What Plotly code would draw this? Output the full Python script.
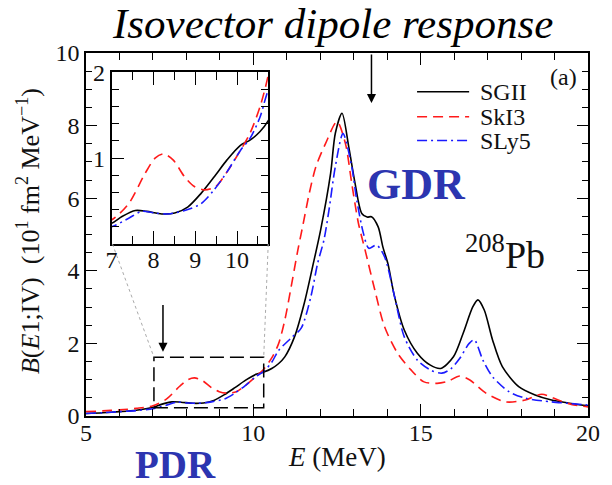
import plotly.graph_objects as go

# ---------------- data ----------------
sg2_E = [5.0, 5.5, 6.0, 6.5, 7.0, 7.25, 7.57, 7.84, 8.2, 8.51, 8.82, 9.14, 9.45, 9.76,
         10.08, 10.31, 10.55, 10.75, 10.94, 11.23, 11.52, 11.77, 12.01, 12.31, 12.45,
         12.65, 12.85, 13.04, 13.24, 13.4, 13.53, 13.73, 13.87, 14.02, 14.22, 14.51,
         14.9, 15.29, 15.6, 15.98, 16.27, 16.56, 16.71, 16.9, 17.15, 17.44, 17.93,
         18.42, 18.91, 19.4, 20.0]
sg2_B = [0.07, 0.09, 0.12, 0.16, 0.24, 0.32, 0.39, 0.38, 0.35, 0.36, 0.43, 0.59, 0.78, 0.98,
         1.15, 1.21, 1.31, 1.44, 1.63, 2.18, 3.1, 4.11, 5.12, 6.69, 7.79,
         8.34, 7.42, 6.41, 5.58, 5.48, 5.49, 5.21, 4.66, 4.2, 3.29, 2.37,
         1.73, 1.4, 1.31, 1.63, 2.28, 3.01, 3.2, 2.92, 2.09, 1.36, 0.81,
         0.58, 0.44, 0.36, 0.28]

ski3_E = [5.0, 5.5, 6.0, 6.5, 7.0, 7.41, 7.8, 8.04, 8.24, 8.47, 8.75, 8.98, 9.22, 9.49,
          9.76, 10.08, 10.31, 10.55, 10.75, 10.94, 11.13, 11.33, 11.48, 11.67, 11.87,
          12.16, 12.5, 12.75, 12.94, 13.14, 13.34, 13.63, 13.92, 14.31, 14.71, 15.1,
          15.49, 15.8, 16.17, 16.47, 16.95, 17.54, 18.13, 18.62, 19.11, 19.5, 20.0]
ski3_B = [0.12, 0.14, 0.17, 0.21, 0.28, 0.47, 0.82, 1.0, 1.05, 0.98, 0.78, 0.67, 0.63, 0.67,
          0.84, 1.09, 1.29, 1.6, 1.98, 2.64, 3.56, 4.57, 5.25, 6.13, 6.87,
          7.51, 8.11, 7.51, 6.41, 5.31, 4.57, 3.47, 2.46, 1.73, 1.27, 0.94,
          0.9, 0.95, 1.1, 0.99, 0.63, 0.39, 0.44, 0.6, 0.44, 0.32, 0.25]

sly5_E = [5.0, 5.5, 6.0, 6.5, 7.0, 7.41, 7.72, 8.04, 8.35, 8.75, 9.14, 9.45, 9.76, 10.08,
          10.31, 10.55, 10.75, 11.13, 11.43, 11.72, 11.92, 12.11, 12.26, 12.45, 12.68,
          12.94, 13.09, 13.29, 13.45, 13.68, 13.92, 14.22, 14.51, 14.9, 15.29, 15.63,
          15.9, 16.17, 16.45, 16.6, 16.86, 17.15, 17.64, 18.13, 18.91, 19.4, 20.0]
sly5_B = [0.07, 0.09, 0.12, 0.15, 0.2, 0.3, 0.38, 0.36, 0.35, 0.39, 0.47, 0.63, 0.84, 1.09,
          1.23, 1.48, 1.8, 2.15, 2.42, 3.29, 4.2, 4.85, 5.67, 6.87, 7.78,
          6.87, 5.95, 5.03, 4.62, 4.71, 4.39, 3.29, 2.18, 1.54, 1.27, 1.18,
          1.3, 1.59, 2.0, 2.1, 1.54, 1.08, 0.67, 0.49, 0.39, 0.35, 0.3]

series_names = ["SGII", "SkI3", "SLy5"]
x_ticks = [5, 10, 15, 20]
y_ticks = [0, 2, 4, 6, 8, 10]
inset_x_ticks = [7, 8, 9, 10]
inset_y_ticks = [1, 2]

# ---------------- figure ----------------
FONT = "Liberation Serif, Times New Roman, serif"
W, H = 612, 485
L, R, T, B = 86, 15, 53, 69
PW, PH = W - L - R, H - T - B


def px(xp):
    return (xp - L) / PW


def py(yp):
    return (H - B - yp) / PH


styles = [
    dict(color="black", width=1.6, dash="solid"),
    dict(color="#ff1a1a", width=1.6, dash="10px,6px"),
    dict(color="#1a1aff", width=1.6, dash="10px,4px,2px,4px"),
]
data = [(sg2_E, sg2_B), (ski3_E, ski3_B), (sly5_E, sly5_B)]

fig = go.Figure()
for (xs, ys), st, nm in zip(data, styles, series_names):
    fig.add_trace(go.Scatter(x=xs, y=ys, mode="lines", name=nm, showlegend=False,
                             line=dict(shape="spline", smoothing=0.8, **st),
                             xaxis="x", yaxis="y"))
for (xs, ys), st, nm in zip(data, styles, series_names):
    fig.add_trace(go.Scatter(x=xs, y=ys, mode="lines", name=nm, showlegend=False,
                             line=dict(shape="spline", smoothing=0.8, **st),
                             xaxis="x2", yaxis="y2"))

axis_common = dict(showline=True, linecolor="black", linewidth=1.5, mirror="allticks",
                   ticks="inside", tickcolor="black", tickwidth=1.2, showgrid=False,
                   zeroline=False, tickfont=dict(family=FONT, size=24, color="#111"))

fig.update_layout(
    width=W, height=H,
    margin=dict(l=L, r=R, t=T, b=B),
    paper_bgcolor="white", plot_bgcolor="white",
    xaxis=dict(range=[5, 20], tickvals=x_ticks, ticklen=12, ticklabelstandoff=-6,
               minor=dict(dtick=1, ticklen=7, ticks="inside", tickcolor="black"),
               domain=[0, 1], anchor="y", **axis_common),
    yaxis=dict(range=[0, 10], tickvals=y_ticks, ticklen=11,
               minor=dict(dtick=0.5, ticklen=6, ticks="inside", tickcolor="black"),
               domain=[0, 1], anchor="x", **axis_common),
    xaxis2=dict(range=[7, 10.75], tickvals=inset_x_ticks, ticklen=13, ticklabelstandoff=-7,
                minor=dict(dtick=0.5, ticklen=8, ticks="inside", tickcolor="black"),
                domain=[px(112), px(271.7)], anchor="y2", **axis_common),
    yaxis2=dict(range=[0, 2], tickvals=inset_y_ticks, ticklen=13,
                minor=dict(dtick=0.2, ticklen=8, ticks="inside", tickcolor="black"),
                domain=[py(244), py(72.3)], anchor="x2", **axis_common),
    showlegend=False,
)

shapes = []
# zoom box in main plot
shapes.append(dict(type="rect", xref="x", yref="y", x0=7.03, x1=10.31, y0=0.23, y1=1.62,
                   line=dict(color="black", width=1.5, dash="14px,6px")))
# grey dotted connector lines
shapes.append(dict(type="line", xref="x", yref="y", x0=5.79, y0=4.74, x1=7.03, y1=1.62,
                   line=dict(color="#aaaaaa", width=1, dash="dot")))
shapes.append(dict(type="line", xref="x", yref="y", x0=10.445, y0=4.74, x1=10.31, y1=1.62,
                   line=dict(color="#aaaaaa", width=1, dash="dot")))
# legend samples
leg_y = [91.7, 116.7, 140.5]
for st, yy in zip(styles, leg_y):
    shapes.append(dict(type="line", xref="paper", yref="paper", x0=px(423), x1=px(476),
                       y0=py(yy), y1=py(yy), line=dict(color=st["color"], width=1.6, dash=st["dash"])))
fig.update_layout(shapes=shapes)

ann = []
for nm, yy in zip(series_names, leg_y):
    ann.append(dict(text=nm, xref="paper", yref="paper", x=px(485), y=py(yy),
                    xanchor="left", yanchor="middle", showarrow=False,
                    font=dict(family=FONT, size=24, color="#111")))
# title
ann.append(dict(text="<i>Isovector dipole response</i>", xref="paper", yref="paper",
                x=px(337), y=py(24), xanchor="center", yanchor="middle", showarrow=False,
                font=dict(family=FONT, size=43, color="black")))
# axis titles
ann.append(dict(text="<i>E</i> (MeV)", xref="paper", yref="paper", x=px(341), y=py(457),
                xanchor="center", yanchor="middle", showarrow=False,
                font=dict(family=FONT, size=27, color="#111")))
ann.append(dict(text="<i>B</i>(<i>E</i>1;IV)  (10<sup>1</sup> fm<sup>2</sup> MeV<sup>\u22121</sup>)",
                xref="paper", yref="paper", x=px(28), y=py(231), textangle=-90,
                xanchor="center", yanchor="middle", showarrow=False,
                font=dict(family=FONT, size=26, color="#111")))
# labels
ann.append(dict(text="(a)", xref="paper", yref="paper", x=px(572), y=py(77),
                xanchor="center", yanchor="middle", showarrow=False,
                font=dict(family=FONT, size=24, color="#111")))
ann.append(dict(text="<b>GDR</b>", xref="paper", yref="paper", x=px(422), y=py(184),
                xanchor="center", yanchor="middle", showarrow=False,
                font=dict(family=FONT, size=44, color="#2C35B0")))
ann.append(dict(text="<b>PDR</b>", xref="paper", yref="paper", x=px(177), y=py(464),
                xanchor="center", yanchor="middle", showarrow=False,
                font=dict(family=FONT, size=39, color="#2C35B0")))
ann.append(dict(text="<sup>208</sup>Pb", xref="paper", yref="paper", x=px(513), y=py(252),
                xanchor="center", yanchor="middle", showarrow=False,
                font=dict(family=FONT, size=38, color="#111")))
# arrows
ann.append(dict(text="", x=13.53, y=8.62, xref="x", yref="y", ax=13.53, ay=10.0,
                axref="x", ayref="y", showarrow=True, arrowhead=2, arrowsize=1.2,
                arrowwidth=1.5, arrowcolor="black"))
ann.append(dict(text="", x=7.3, y=1.77, xref="x", yref="y", ax=7.3, ay=3.1,
                axref="x", ayref="y", showarrow=True, arrowhead=2, arrowsize=1.2,
                arrowwidth=1.5, arrowcolor="black"))
fig.update_layout(annotations=ann)

fig.write_html("out.html")
